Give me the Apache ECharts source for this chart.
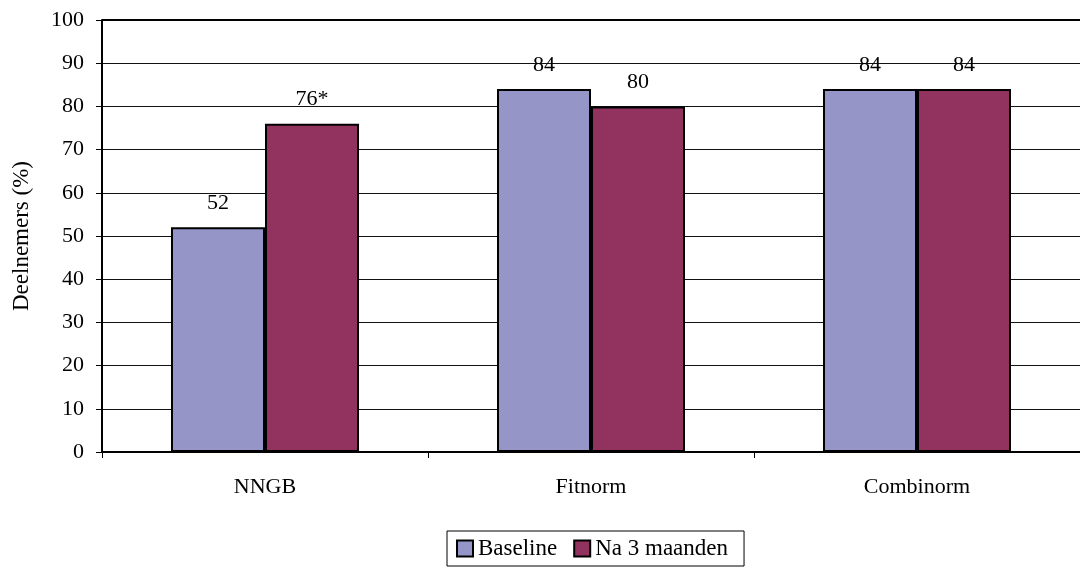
<!DOCTYPE html>
<html>
<head>
<meta charset="utf-8">
<script src="https://cdn.jsdelivr.net/npm/echarts@6/dist/echarts.min.js"></script>
<style>
  html, body { margin: 0; padding: 0; background: #fff; }
  #chart { width: 1080px; height: 568px; }
</style>
</head>
<body>
<div id="chart"></div>
<script>
// Share of participants per norm, at baseline and after 3 months
const categories = ['NNGB', 'Fitnorm', 'Combinorm'];
const baseline = [52, 84, 84];
const naDrieMaanden = [76, 80, 84];
const naDrieMaandenLabels = ['76*', '80', '84'];
const yTicks = [0, 10, 20, 30, 40, 50, 60, 70, 80, 90, 100];

const serif = '"Liberation Serif", "DejaVu Serif", serif';

const chart = echarts.init(document.getElementById('chart'));
chart.setOption({
  animation: false,
  backgroundColor: '#ffffff',
  textStyle: { fontFamily: serif, color: '#000' },
  grid: { left: 102, top: 20, width: 987, height: 432 },
  legend: {
    left: 447,
    top: 531,
    itemWidth: 16,
    itemHeight: 16,
    itemGap: 16,
    padding: [6, 16, 6, 9],
    borderColor: '#000',
    borderWidth: 1,
    textStyle: { fontFamily: serif, fontSize: 23, color: '#000' },
    data: [
      { name: 'Baseline', icon: 'rect', itemStyle: { borderColor: '#000', borderWidth: 2 } },
      { name: 'Na 3 maanden', icon: 'rect', itemStyle: { borderColor: '#000', borderWidth: 2 } }
    ]
  },
  xAxis: {
    type: 'category',
    data: categories,
    boundaryGap: true,
    axisLine: { lineStyle: { color: '#000', width: 2 } },
    axisTick: { show: true, alignWithLabel: false, length: 6, inside: false, lineStyle: { color: '#000', width: 1 } },
    axisLabel: { fontFamily: serif, fontSize: 22, color: '#000', margin: 24 },
    splitLine: { show: false }
  },
  yAxis: {
    type: 'value',
    min: yTicks[0],
    max: yTicks[yTicks.length - 1],
    interval: 10,
    name: 'Deelnemers (%)',
    nameLocation: 'middle',
    nameGap: 69,
    nameRotate: 90,
    nameTextStyle: { fontFamily: serif, fontSize: 23, color: '#000' },
    axisLine: { show: true, lineStyle: { color: '#000', width: 2 } },
    axisTick: { show: true, length: 6, lineStyle: { color: '#000', width: 1 } },
    axisLabel: {
      fontFamily: serif, fontSize: 22, color: '#000', margin: 18,
      formatter: v => (yTicks.indexOf(v) >= 0 ? String(v) : '')
    },
    splitLine: {
      show: true,
      lineStyle: { color: '#111', width: 1 }
    }
  },
  series: [
    {
      name: 'Baseline',
      type: 'bar',
      data: baseline,
      barWidth: 94,
      barGap: '0%',
      itemStyle: { color: '#9595c8', borderColor: '#000', borderWidth: 2 },
      label: {
        show: true, position: 'top', distance: 13,
        fontFamily: serif, fontSize: 22, color: '#000'
      }
    },
    {
      name: 'Na 3 maanden',
      type: 'bar',
      data: naDrieMaanden,
      barWidth: 94,
      barGap: '0%',
      itemStyle: { color: '#92325f', borderColor: '#000', borderWidth: 2 },
      label: {
        show: true, position: 'top', distance: 13,
        fontFamily: serif, fontSize: 22, color: '#000',
        formatter: p => naDrieMaandenLabels[p.dataIndex]
      }
    }
  ]
});

// Heavier top border of the plot area
chart.setOption({
  graphic: [{
    type: 'line',
    shape: (function () {
      const p0 = chart.convertToPixel({ gridIndex: 0 }, [0, 100]);
      return { x1: 102, y1: p0[1], x2: 1080, y2: p0[1] };
    })(),
    style: { stroke: '#000', lineWidth: 2 },
    z: 10
  }]
});
</script>
</body>
</html>
